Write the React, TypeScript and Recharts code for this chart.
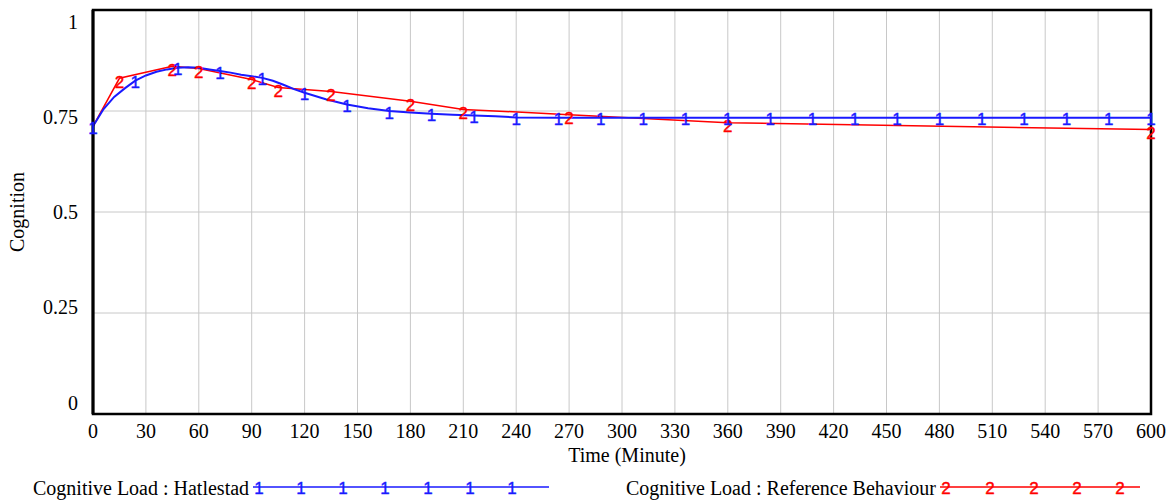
import React from 'react';
import {
  LineChart,
  Line,
  XAxis,
  YAxis,
  CartesianGrid,
  ReferenceArea,
} from 'recharts';

// minutes / cognition
const hatlestadTime = [
  0, 6, 12, 18, 24, 30, 36, 42, 48, 54, 60, 66, 72, 78, 84, 90, 96, 102, 108, 114,
  120, 132, 144, 156, 168, 180, 192, 204, 216, 228, 240, 264, 288, 312, 336, 360,
  384, 408, 432, 456, 480, 504, 528, 552, 576, 600,
];
const hatlestadValues = [
  0.712, 0.755, 0.785, 0.806, 0.825, 0.838, 0.847, 0.853, 0.857, 0.858, 0.857, 0.853,
  0.849, 0.845, 0.84, 0.836, 0.832, 0.825, 0.815, 0.804, 0.795, 0.779, 0.766, 0.757,
  0.75, 0.746, 0.743, 0.741, 0.739, 0.737, 0.734, 0.733, 0.733, 0.733, 0.733, 0.733,
  0.733, 0.733, 0.733, 0.733, 0.733, 0.733, 0.733, 0.733, 0.733, 0.733,
];
const referenceTime = [0, 15, 45, 60, 90, 105, 135, 180, 210, 270, 360, 600];
const referenceValues = [
  0.712, 0.831, 0.861, 0.855, 0.828, 0.808, 0.798, 0.774, 0.754, 0.741, 0.721, 0.704,
];

const xTicks = [
  0, 30, 60, 90, 120, 150, 180, 210, 240, 270, 300, 330, 360, 390, 420, 450, 480, 510,
  540, 570, 600,
];
const yTicks = [0, 0.25, 0.5, 0.75, 1];
const seriesNames = ['Cognitive Load : Hatlestad', 'Cognitive Load : Reference Behaviour'];

const hatlestadData = hatlestadTime.map((t, i) => ({ t, v: hatlestadValues[i] }));
const referenceData = referenceTime.map((t, i) => ({ t, v: referenceValues[i] }));

const SERIF = '"Liberation Serif", "Times New Roman", serif';
const SANS = '"Liberation Sans", Arial, sans-serif';
const BLUE = '#1a1aff';
const RED = '#ff0000';

const YTick = (props: any) => {
  const { x, y, payload } = props;
  // vensim nudges labels so they stay inside the frame
  const dy = payload.value * 23.5 - 4.5;
  return (
    <text x={x} y={y + dy} textAnchor="end" fontFamily={SERIF} fontSize={20} fill="#000">
      {payload.value}
    </text>
  );
};

const XTick = (props: any) => {
  const { x, y, payload } = props;
  return (
    <text x={x} y={y} dy="0.71em" textAnchor="middle" fontFamily={SERIF} fontSize={20} fill="#000">
      {payload.value}
    </text>
  );
};

const markStyle = { strokeWidth: 0.4 };

const BlueDot = (props: any) => {
  const { cx, cy, payload, index } = props;
  if (payload.t % 24 !== 0) return <g key={`b${index}`} />;
  return (
    <text
      key={`b${index}`}
      x={cx}
      y={cy + 7.5}
      textAnchor="middle"
      fontFamily={SANS}
      fontSize={17}
      fill={BLUE}
      stroke={BLUE}
      style={markStyle}
    >
      1
    </text>
  );
};

const RedDot = (props: any) => {
  const { cx, cy, index } = props;
  if (index === 0) return <g key={`r${index}`} />;
  return (
    <text
      key={`r${index}`}
      x={cx}
      y={cy + 9.5}
      textAnchor="middle"
      fontFamily={SANS}
      fontSize={17}
      fill={RED}
      stroke={RED}
      style={markStyle}
    >
      2
    </text>
  );
};

const LegendRow = ({ textX, lineX1, lineX2, marks, digit, color, label }: any) => (
  <g>
    <text x={textX} y={495} fontFamily={SERIF} fontSize={20} fill="#000">
      {label}
    </text>
    <line x1={lineX1} x2={lineX2} y1={487} y2={487} stroke={color} strokeWidth={1.5} />
    {marks.map((mx: number) => (
      <text
        key={mx}
        x={mx}
        y={493.5}
        textAnchor="middle"
        fontFamily={SANS}
        fontSize={17}
        fill={color}
        stroke={color}
        style={markStyle}
      >
        {digit}
      </text>
    ))}
  </g>
);

export default function App() {
  return (
    <div style={{ position: 'absolute', left: 0, top: 0, width: 1174, height: 501, background: '#fff' }}>
      <LineChart
        width={1174}
        height={501}
        margin={{ top: 10, right: 23, left: 0, bottom: 0 }}
      >
        <CartesianGrid stroke="#c8c8c8" strokeWidth={1} />
        <XAxis
          type="number"
          dataKey="t"
          domain={[0, 600]}
          ticks={xTicks}
          interval={0}
          height={87}
          tickSize={0}
          tickMargin={10}
          tick={<XTick />}
          axisLine={{ stroke: '#000', strokeWidth: 2 }}
          label={{
            value: 'Time (Minute)',
            position: 'insideTop',
            offset: 34,
            dx: 5,
            style: { fontFamily: SERIF, fontSize: 20, fill: '#000' },
          }}
        />
        <YAxis
          type="number"
          domain={[0, 1]}
          ticks={yTicks}
          interval={0}
          width={93}
          tickSize={0}
          tickMargin={15}
          tick={<YTick />}
          axisLine={{ stroke: '#000', strokeWidth: 3 }}
          label={{
            value: 'Cognition',
            angle: -90,
            position: 'insideLeft',
            offset: 17,
            style: { fontFamily: SERIF, fontSize: 20, fill: '#000', textAnchor: 'middle' },
          }}
        />
        <ReferenceArea
          x1={0}
          x2={600}
          y1={0}
          y2={1}
          fill="none"
          fillOpacity={0}
          stroke="#000"
          strokeWidth={2.5}
          ifOverflow="visible"
        />
        <Line
          data={referenceData}
          dataKey="v"
          type="linear"
          stroke={RED}
          strokeWidth={1.5}
          dot={<RedDot />}
          activeDot={false}
          isAnimationActive={false}
        />
        <Line
          data={hatlestadData}
          dataKey="v"
          type="linear"
          stroke={BLUE}
          strokeWidth={2}
          dot={<BlueDot />}
          activeDot={false}
          isAnimationActive={false}
        />
      </LineChart>
      <svg
        width={1174}
        height={501}
        style={{ position: 'absolute', left: 0, top: 0, pointerEvents: 'none' }}
      >
        <LegendRow
          textX={33}
          lineX1={253}
          lineX2={549}
          marks={[259, 301, 343, 385, 428, 470, 512]}
          digit="1"
          color={BLUE}
          label={seriesNames[0]}
        />
        <LegendRow
          textX={626}
          lineX1={940}
          lineX2={1140}
          marks={[946, 990, 1034, 1077, 1120]}
          digit="2"
          color={RED}
          label={seriesNames[1]}
        />
      </svg>
    </div>
  );
}
